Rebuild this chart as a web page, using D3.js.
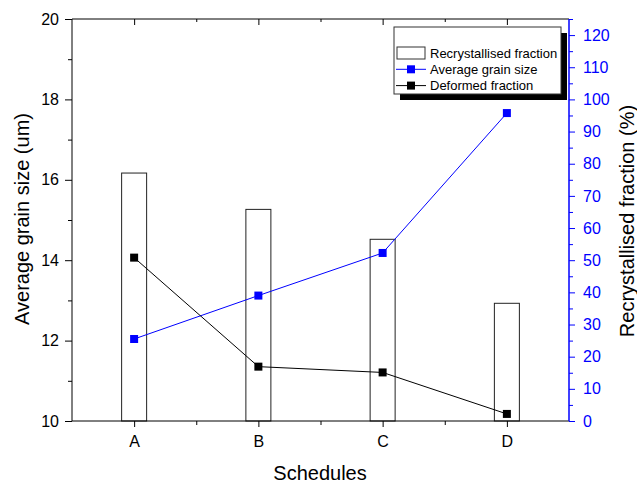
<!DOCTYPE html>
<html>
<head>
<meta charset="utf-8">
<script src="https://cdn.jsdelivr.net/npm/d3@7"></script>
<style>
  body { margin: 0; background: #fff; }
  svg { font-family: "Liberation Sans", Arial, sans-serif; }
</style>
</head>
<body>
<div id="chart"></div>
<script>
const categories = ["A", "B", "C", "D"];
const recrystallised = [77.1, 65.8, 56.5, 36.6];   // %, right axis, bars
const grainSize = [12.04, 13.12, 14.18, 17.66];    // um, left axis
const deformed = [50.8, 16.9, 15.1, 2.2];          // %, right axis

const leftTicks = [10, 12, 14, 16, 18, 20];
const leftMinor = [11, 13, 15, 17, 19];
const rightTicks = d3.range(0, 121, 10);
const rightMinor = d3.range(5, 126, 10);

const W = 637, H = 484;
const plot = { left: 72, right: 569, top: 19, bottom: 421 };

const svg = d3.select("#chart").append("svg")
    .attr("width", W).attr("height", H);

const x = d3.scalePoint().domain(categories)
    .range([plot.left, plot.right]).padding(0.5);
const xi = d3.scaleLinear().domain([-0.5, categories.length - 0.5])
    .range([plot.left, plot.right]);
const yL = d3.scaleLinear().domain([10, 20]).range([plot.bottom, plot.top]);
const yR = d3.scaleLinear().domain([0, 125]).range([plot.bottom, plot.top]);

const xMinor = [0.5, 1.5, 2.5];

// bars
svg.selectAll(".bar")
    .data(categories)
    .enter().append("rect")
    .attr("class", "bar")
    .attr("x", d => x(d) - 12.5)
    .attr("y", (d, i) => yR(recrystallised[i]))
    .attr("width", 25)
    .attr("height", (d, i) => plot.bottom - yR(recrystallised[i]))
    .attr("fill", "#fff")
    .attr("stroke", "#222")
    .attr("stroke-width", 1);

function styleAxis(g, color) {
    g.select(".domain").remove();
    g.selectAll("line").attr("stroke", color).attr("stroke-width", 1);
    g.selectAll("text").attr("fill", color).style("font-size", "16px")
        .style("font-family", "'Liberation Sans', Arial, sans-serif");
}

// left axis
svg.append("g").attr("transform", `translate(${plot.left},0)`)
    .call(d3.axisLeft(yL).tickValues(leftMinor).tickSize(4).tickFormat(""))
    .call(g => styleAxis(g, "#000"));
svg.append("g").attr("transform", `translate(${plot.left},0)`)
    .call(d3.axisLeft(yL).tickValues(leftTicks).tickSize(7).tickPadding(6))
    .call(g => styleAxis(g, "#000"));

// bottom axis
svg.append("g").attr("transform", `translate(0,${plot.bottom})`)
    .call(d3.axisBottom(xi).tickValues(xMinor).tickSize(4).tickFormat(""))
    .call(g => styleAxis(g, "#000"));
svg.append("g").attr("transform", `translate(0,${plot.bottom})`)
    .call(d3.axisBottom(x).tickSize(6).tickPadding(9))
    .call(g => styleAxis(g, "#000"));

// top axis (inward ticks)
svg.append("g").attr("transform", `translate(0,${plot.top})`)
    .call(d3.axisBottom(xi).tickValues(xMinor).tickSize(3).tickFormat(""))
    .call(g => styleAxis(g, "#000"));
svg.append("g").attr("transform", `translate(0,${plot.top})`)
    .call(d3.axisBottom(x).tickSize(6).tickFormat(""))
    .call(g => styleAxis(g, "#000"));

// right axis
svg.append("g").attr("transform", `translate(${plot.right},0)`)
    .call(d3.axisRight(yR).tickValues(rightMinor).tickSize(4).tickFormat(""))
    .call(g => styleAxis(g, "#0000ff"));
svg.append("g").attr("transform", `translate(${plot.right},0)`)
    .call(d3.axisRight(yR).tickValues(rightTicks).tickSize(6).tickPadding(8))
    .call(g => styleAxis(g, "#0000ff"));

// frame lines
svg.append("line").attr("x1", plot.left).attr("x2", plot.right)
    .attr("y1", plot.top).attr("y2", plot.top).attr("stroke", "#000");
svg.append("line").attr("x1", plot.left).attr("x2", plot.right)
    .attr("y1", plot.bottom).attr("y2", plot.bottom).attr("stroke", "#000");
svg.append("line").attr("x1", plot.left).attr("x2", plot.left)
    .attr("y1", plot.top).attr("y2", plot.bottom).attr("stroke", "#000");
svg.append("line").attr("x1", plot.right).attr("x2", plot.right)
    .attr("y1", plot.top).attr("y2", plot.bottom).attr("stroke", "#0000ff")
    .attr("stroke-width", 1.5);

// lines + markers
function series(values, yScale, color) {
    const line = d3.line().x((d, i) => x(categories[i])).y(d => yScale(d));
    svg.append("path").datum(values)
        .attr("d", line).attr("fill", "none")
        .attr("stroke", color).attr("stroke-width", 1);
    svg.selectAll(null).data(values).enter().append("rect")
        .attr("x", (d, i) => x(categories[i]) - 4)
        .attr("y", d => yScale(d) - 4)
        .attr("width", 8).attr("height", 8)
        .attr("fill", color);
}
series(grainSize, yL, "#0000ff");
series(deformed, yR, "#000");

// axis titles
svg.append("text")
    .attr("transform", "translate(29,219) rotate(-90)")
    .attr("text-anchor", "middle")
    .style("font-size", "20px")
    .text("Average grain size (um)");
svg.append("text")
    .attr("transform", "translate(634,221) rotate(-90)")
    .attr("text-anchor", "middle")
    .style("font-size", "20px")
    .text("Recrystallised fraction (%)");
svg.append("text")
    .attr("x", 320).attr("y", 480)
    .attr("text-anchor", "middle")
    .style("font-size", "20px")
    .text("Schedules");

// legend
const lg = svg.append("g");
lg.append("rect").attr("x", 400).attr("y", 33).attr("width", 167).attr("height", 67)
    .attr("fill", "#000");
lg.append("rect").attr("x", 394).attr("y", 27).attr("width", 167).attr("height", 67)
    .attr("fill", "#fff").attr("stroke", "#333").attr("stroke-width", 1);

const legendItems = [
    { label: "Recrystallised fraction", type: "bar", color: "#000" },
    { label: "Average grain size", type: "line", color: "#0000ff" },
    { label: "Deformed fraction", type: "line", color: "#000" }
];
legendItems.forEach((it, i) => {
    const cy = 53 + i * 16.3;
    if (it.type === "bar") {
        lg.append("rect").attr("x", 397).attr("y", cy - 6).attr("width", 28).attr("height", 12)
            .attr("fill", "#fff").attr("stroke", "#333");
    } else {
        lg.append("line").attr("x1", 396).attr("x2", 426).attr("y1", cy).attr("y2", cy)
            .attr("stroke", it.color);
        lg.append("rect").attr("x", 407).attr("y", cy - 4).attr("width", 8).attr("height", 8)
            .attr("fill", it.color);
    }
    lg.append("text").attr("x", 430).attr("y", cy + 4.5)
        .style("font-size", "13px").text(it.label);
});
</script>
</body>
</html>
